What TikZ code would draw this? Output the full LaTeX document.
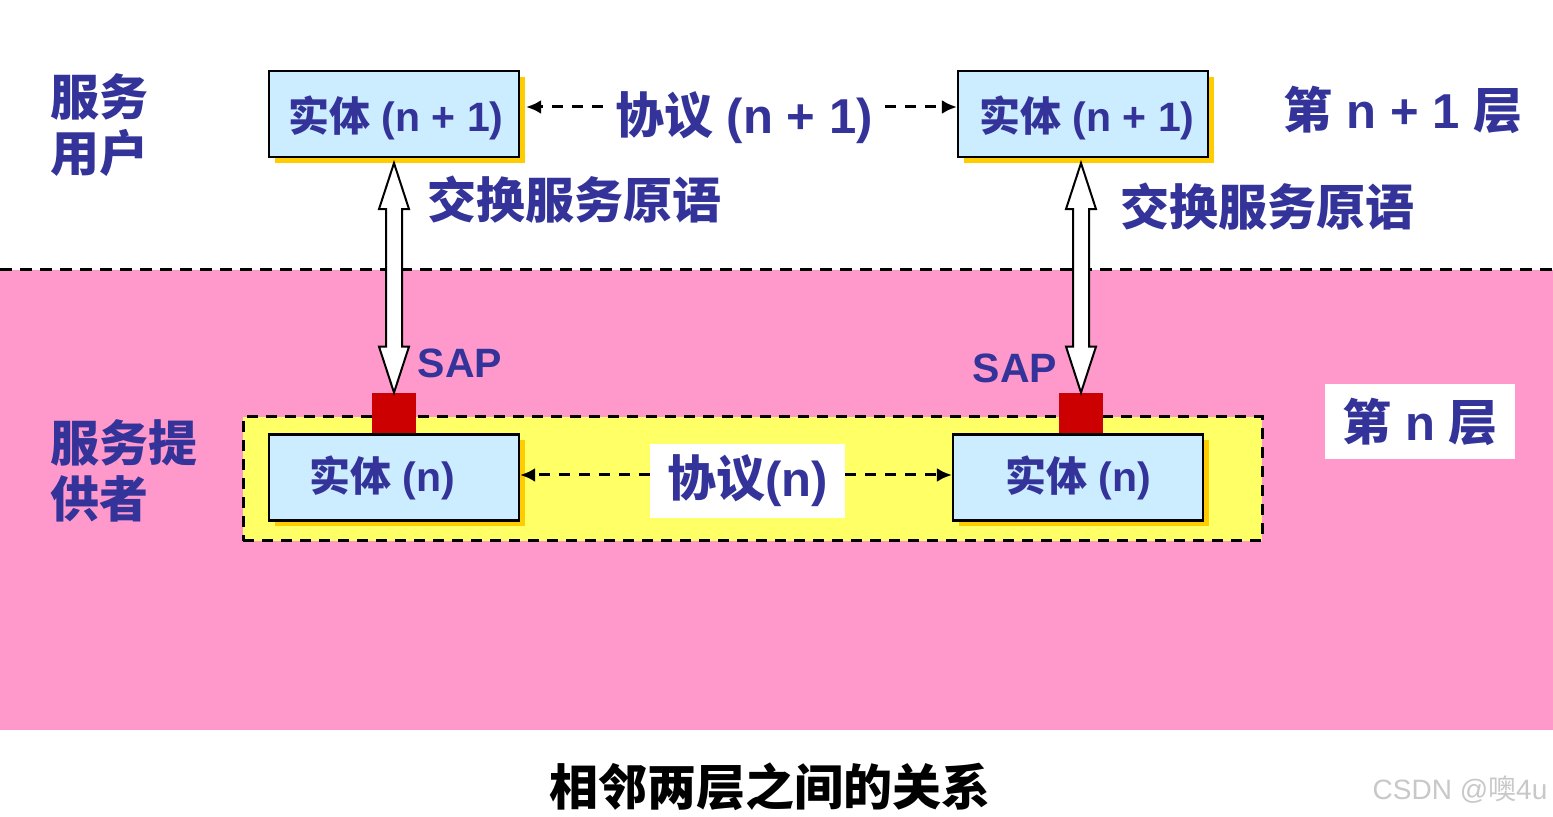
\documentclass[tikz,border=0pt]{standalone}
\usepackage{fontspec}
\setmainfont{Liberation Sans}
\newfontfamily\cjk{Noto Sans CJK SC}
\usetikzlibrary{arrows.meta,shadows,calc}
\definecolor{txtblue}{HTML}{333399}
\definecolor{pinkbg}{HTML}{FF99CC}
\definecolor{yellowbg}{HTML}{FFFF66}
\definecolor{entblue}{HTML}{CCECFF}
\definecolor{shadowy}{HTML}{FFCC00}
\definecolor{sapred}{HTML}{CC0000}
\definecolor{wmgray}{HTML}{C8C8C8}
\newcommand\zh[1]{{\cjk #1}}
\newcommand\bigtxt{\fontsize{24.5}{28}\selectfont\bfseries}
\newcommand\midtxt{\fontsize{20.5}{24}\selectfont\bfseries}
\newcommand\lowered[1]{\raisebox{-2.2pt}[\height][\depth]{#1}}
\newcommand\dblarr[2]{\draw[dblarrow] (#1) -- ++(15,46) -- ++(-7,0) -- ($(#2)+(8,-46)$) -- ++(7,0) -- (#2) -- ++(-15,-46) -- ++(7,0) -- ($(#1)+(-8,46)$) -- ++(-7,0) -- cycle;}
\begin{document}
\begin{tikzpicture}[x=0.5pt,y=-0.5pt,
  entity/.style={draw=black, line width=1.1pt, fill=entblue, minimum width=125pt, minimum height=43pt, inner sep=0pt, text=txtblue, font=\midtxt,
    drop shadow={shadow xshift=3pt, shadow yshift=-3pt, fill=shadowy, opacity=1}},
  label/.style={text=txtblue, font=\bigtxt, inner sep=0pt},
  whitebox/.style={fill=white, text=txtblue, font=\bigtxt, inner sep=0pt},
  sapbox/.style={fill=sapred, minimum width=22pt, minimum height=20pt, inner sep=0pt},
  proto/.style={dashed, dash pattern=on 5.5pt off 4.5pt, line width=1.5pt, -{Latex[length=7.5pt,width=7pt]}},
  sep/.style={dashed, dash pattern=on 6pt off 4pt, line width=1.5pt},
  dblarrow/.style={draw=black, fill=white, line width=1pt, line join=miter},
  layerbox/.style={draw=black, fill=yellowbg, dashed, dash pattern=on 5.5pt off 4pt, line width=1.5pt, minimum width=509.5pt, minimum height=62pt, inner sep=0pt}
]
\useasboundingbox (0,0) rectangle (1553,817);
\fill[white] (0,0) rectangle (1553,817);
% provider background
\fill[pinkbg] (0,270) rectangle (1553,730);
\coordinate (sepL) at (0,270);
\coordinate (sepR) at (1553,270);
\draw[sep] (sepL) -- (sepR);

% layer n region
\node[layerbox] (layer) at (752.5,479) {};

% SAPs
\node[sapbox] (sap1) at (394,413) {};
\node[sapbox] (sap2) at (1081,413) {};

% entities
\node[entity] (e1t) at (394,114) {\lowered{\zh{实体} (n + 1)}\hspace*{-2pt}};
\node[entity] (e2t) at (1083,114) {\lowered{\zh{实体} (n + 1)}\hspace*{-4pt}};
\node[entity] (e1b) at (394,477.5) {\zh{实体} (n)\hspace*{12pt}};
\node[entity] (e2b) at (1078,477.5) {\zh{实体} (n)};

% protocol labels
\node[label, inner xsep=6pt] (p1) at (744,118) {\zh{协议} (n + 1)};
\node[whitebox, minimum width=97.5pt, minimum height=37pt] (p0) at (747.5,481) {\zh{协议}(n)};

% protocol arrows
\coordinate (a1) at ($(e1t.east)+(6,-7)$);
\coordinate (a2) at ($(e2t.west)+(0,-7)$);
\draw[proto] (p1.west |- a1) -- (a1);
\draw[proto] (p1.east |- a2) -- (a2);
\draw[proto] (p0.west |- 0,475) -- (e1b.east |- 0,475);
\draw[proto] (p0.east |- 0,475) -- (e2b.west |- 0,475);

% service primitive double arrows
\coordinate (t1) at ($(sap1.north |- e1t.south)+(0,5)$);
\coordinate (t2) at ($(sap2.north |- e2t.south)+(0,5)$);
\dblarr{t1}{sap1.north}
\dblarr{t2}{sap2.north}

% labels
\node[label, align=left, anchor=west] (user) at (50,125) {\zh{服务}\\\zh{用户}};
\node[label, align=left, anchor=west] (prov) at (50,471) {\zh{服务提}\\\zh{供者}};
\node[label] (xc1) at (574,200) {\zh{交换服务原语}};
\node[label] (xc2) at (1267,207) {\zh{交换服务原语}};
\node[label] (ln1) at (1403,110) {\zh{第} n + 1 \zh{层}};
\node[whitebox, minimum width=95pt, minimum height=37.5pt] (ln0) at (1420,421.5) {\zh{第} n \zh{层}};
\node[label, font=\midtxt] (sapl1) at (460,363) {SAP};
\node[label, font=\midtxt] (sapl2) at (1015,368) {SAP};

% caption
\node[font=\bigtxt, text=black, inner sep=0pt] (cap) at (770,787) {\zh{相邻两层之间的关系}};
\node[font=\fontsize{14}{16}\selectfont, text=wmgray, inner sep=0pt] (wm) at (1460,790) {CSDN @\zh{噢}4u};
\end{tikzpicture}
\end{document}
